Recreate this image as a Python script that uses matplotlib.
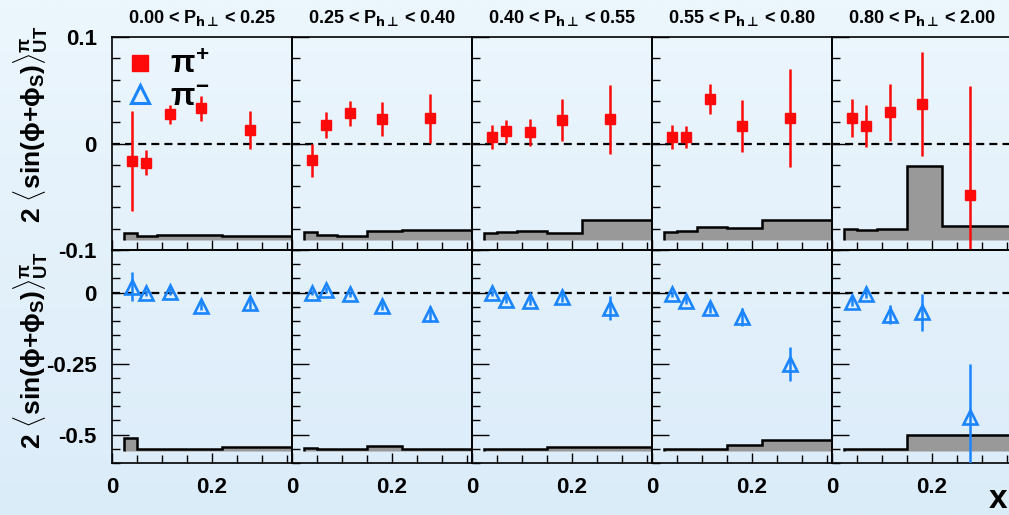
import numpy as np
import matplotlib
matplotlib.use('Agg')
import matplotlib.pyplot as plt
from matplotlib.lines import Line2D
from matplotlib.ticker import MultipleLocator
from matplotlib.colors import LinearSegmentedColormap

plt.rcParams['font.family'] = ['Liberation Sans', 'DejaVu Sans']
plt.rcParams['font.weight'] = 'bold'
plt.rcParams['mathtext.fontset'] = 'custom'
plt.rcParams['mathtext.rm'] = 'Liberation Sans:bold'
plt.rcParams['mathtext.it'] = 'Liberation Sans:bold'
plt.rcParams['mathtext.bf'] = 'Liberation Sans:bold'
plt.rcParams['mathtext.sf'] = 'DejaVu Sans:bold'

# P_h-perp bins (one column each)
pt_titles = [r'0.00 < P$_{\mathsf{h\bot}\!}$ < 0.25',
             r'0.25 < P$_{\mathsf{h\bot}\!}$ < 0.40',
             r'0.40 < P$_{\mathsf{h\bot}\!}$ < 0.55',
             r'0.55 < P$_{\mathsf{h\bot}\!}$ < 0.80',
             r'0.80 < P$_{\mathsf{h\bot}\!}$ < 2.00']

# x bins
x_mean = [0.039, 0.068, 0.116, 0.179, 0.276]
x_edges = [0.023, 0.05, 0.09, 0.15, 0.22, 0.40]

# pi+ asymmetries
pip_val = [[-0.0164, -0.0180, 0.0274, 0.0330, 0.0129],
           [-0.0157, 0.0173, 0.0283, 0.0230, 0.0239],
           [0.0060, 0.0113, 0.0104, 0.0220, 0.0226],
           [0.0060, 0.0063, 0.0418, 0.0167, 0.0242],
           [0.0242, 0.0164, 0.0292, 0.0368, -0.0484]]
pip_err = [[0.0470, 0.0118, 0.0090, 0.0120, 0.0180],
           [0.0154, 0.0120, 0.0120, 0.0157, 0.0230],
           [0.0115, 0.0104, 0.0124, 0.0195, 0.0327],
           [0.0110, 0.0104, 0.0140, 0.0245, 0.0460],
           [0.0180, 0.0193, 0.0267, 0.0490, 0.1025]]
# pi+ systematic band heights
pip_sys = [[0.0066, 0.0041, 0.0046, 0.0046, 0.0039],
           [0.0073, 0.0051, 0.0041, 0.0082, 0.0095],
           [0.0063, 0.0073, 0.0082, 0.0066, 0.0192],
           [0.0073, 0.0082, 0.0126, 0.0116, 0.0189],
           [0.0104, 0.0095, 0.0107, 0.0692, 0.0132]]
pip_sys_base = -0.0906

# pi- asymmetries
pim_val = [[0.021, -0.002, 0.0035, -0.0456, -0.0374],
           [0.000, 0.0093, -0.0047, -0.0467, -0.0748],
           [-0.002, -0.0257, -0.028, -0.0164, -0.055],
           [-0.005, -0.028, -0.055, -0.0865, -0.251],
           [-0.0315, -0.0047, -0.078, -0.069, -0.438]]
pim_err = [[0.050, 0.010, 0.012, 0.015, 0.020],
           [0.010, 0.010, 0.012, 0.015, 0.028],
           [0.010, 0.012, 0.014, 0.018, 0.043],
           [0.010, 0.012, 0.016, 0.031, 0.061],
           [0.015, 0.016, 0.034, 0.065, 0.187]]
pim_sys = [[0.046, 0.006, 0.007, 0.009, 0.016],
           [0.010, 0.007, 0.009, 0.018, 0.009],
           [0.007, 0.008, 0.009, 0.014, 0.016],
           [0.007, 0.009, 0.007, 0.020, 0.038],
           [0.007, 0.007, 0.007, 0.056, 0.058]]
pim_sys_base = -0.558

red = '#ff0a0a'
blue = '#1a85ff'
W, H = 1009, 515

fig = plt.figure(figsize=(W / 100, H / 100), dpi=100)

# light blue gradient background
bg = fig.add_axes([0, 0, 1, 1], zorder=-10)
cmap = LinearSegmentedColormap.from_list('bg', ['#dbecf9', '#ecf6fd'])
bg.imshow(np.linspace(0, 1, 256)[:, None], aspect='auto', cmap=cmap,
          extent=[0, 1, 0, 1], origin='lower')
bg.axis('off')


def style_axes(ax, top_row, first):
    ax.set_facecolor('none')
    for s in ax.spines.values():
        s.set_linewidth(1.2)
    ax.set_xlim(0, 0.36)
    ax.set_xticks([0, 0.2])
    ax.xaxis.set_minor_locator(MultipleLocator(0.05))
    if top_row:
        ax.set_ylim(-0.1, 0.1)
        ax.set_yticks([-0.1, 0, 0.1])
        ax.set_yticklabels(['-0.1', '0', '0.1'])
        ax.yaxis.set_minor_locator(MultipleLocator(0.02))
    else:
        ax.set_ylim(-0.6, 0.15)
        ax.set_yticks([-0.5, -0.25, 0])
        ax.set_yticklabels(['-0.5', '-0.25', '0'])
        ax.yaxis.set_minor_locator(MultipleLocator(0.05))
    ax.set_xticklabels(['0', '0.2'])
    ax.tick_params(axis='y', which='major', direction='in', length=12.5,
                   width=1, labelsize=16, pad=11, right=False)
    ax.tick_params(axis='y', which='minor', direction='in', length=6,
                   width=1, right=False)
    ax.tick_params(axis='x', which='major', direction='in', length=7.5,
                   width=1, labelsize=16, pad=10, top=False)
    ax.tick_params(axis='x', which='minor', direction='in', length=5.5,
                   width=1, top=False)
    if top_row:
        ax.tick_params(axis='x', labelbottom=False)
    if not first:
        ax.tick_params(axis='y', labelleft=False)
    ax.axhline(0, color='k', ls=(0, (3.6, 2.3)), lw=1.6, zorder=3)


for i in range(5):
    left = (112 + 180 * i) / W
    ax_t = fig.add_axes([left, (H - 250) / H, 180 / W, 213 / H])
    ax_b = fig.add_axes([left, (H - 463) / H, 180 / W, 213 / H])
    style_axes(ax_t, True, i == 0)
    style_axes(ax_b, False, i == 0)

    ax_t.stairs(pip_sys_base + np.array(pip_sys[i]), x_edges,
                baseline=pip_sys_base, fill=True, facecolor='#999999',
                edgecolor='black', lw=1.8, zorder=2)
    ax_b.stairs(pim_sys_base + np.array(pim_sys[i]), x_edges,
                baseline=pim_sys_base, fill=True, facecolor='#999999',
                edgecolor='black', lw=1.8, zorder=2)

    ax_t.errorbar(x_mean, pip_val[i], yerr=pip_err[i], fmt='s', color=red,
                  ms=7.5, elinewidth=1.8, capsize=0, zorder=5)
    ax_b.errorbar(x_mean, pim_val[i], yerr=pim_err[i], fmt='^', color=blue,
                  mfc='none', mec=blue, mew=1.9, ms=10, elinewidth=1.8,
                  capsize=0, zorder=5)

    ax_t.text(0.5, 1.09, pt_titles[i], transform=ax_t.transAxes,
              ha='center', va='center', fontsize=13)

    if i == 0:
        handles = [Line2D([], [], marker='s', color=red, ls='none', ms=11),
                   Line2D([], [], marker='^', color=blue, mfc='none',
                          mec=blue, mew=2.2, ls='none', ms=13)]
        ax_t.legend(handles, [r'$\pi^{+}$', r'$\pi^{-}$'], loc='upper left',
                    bbox_to_anchor=(-0.11, 1.07), frameon=False, fontsize=23,
                    handletextpad=0.35, labelspacing=0.05, handlelength=1.2)

ylab = r'2 $\langle$sin($\phi$+$\phi_{\mathregular{S}}$)$\rangle^{\pi}_{\mathregular{UT}}$'
fig.text(31 / W, (H - 124) / H, ylab, rotation=90, ha='center', va='center',
         fontsize=19)
fig.text(31 / W, (H - 350) / H, ylab, rotation=90, ha='center', va='center',
         fontsize=19)
fig.text(989 / W, 0.0, 'x', fontsize=24, ha='left', va='bottom')

fig.savefig('out.png', dpi=100)
